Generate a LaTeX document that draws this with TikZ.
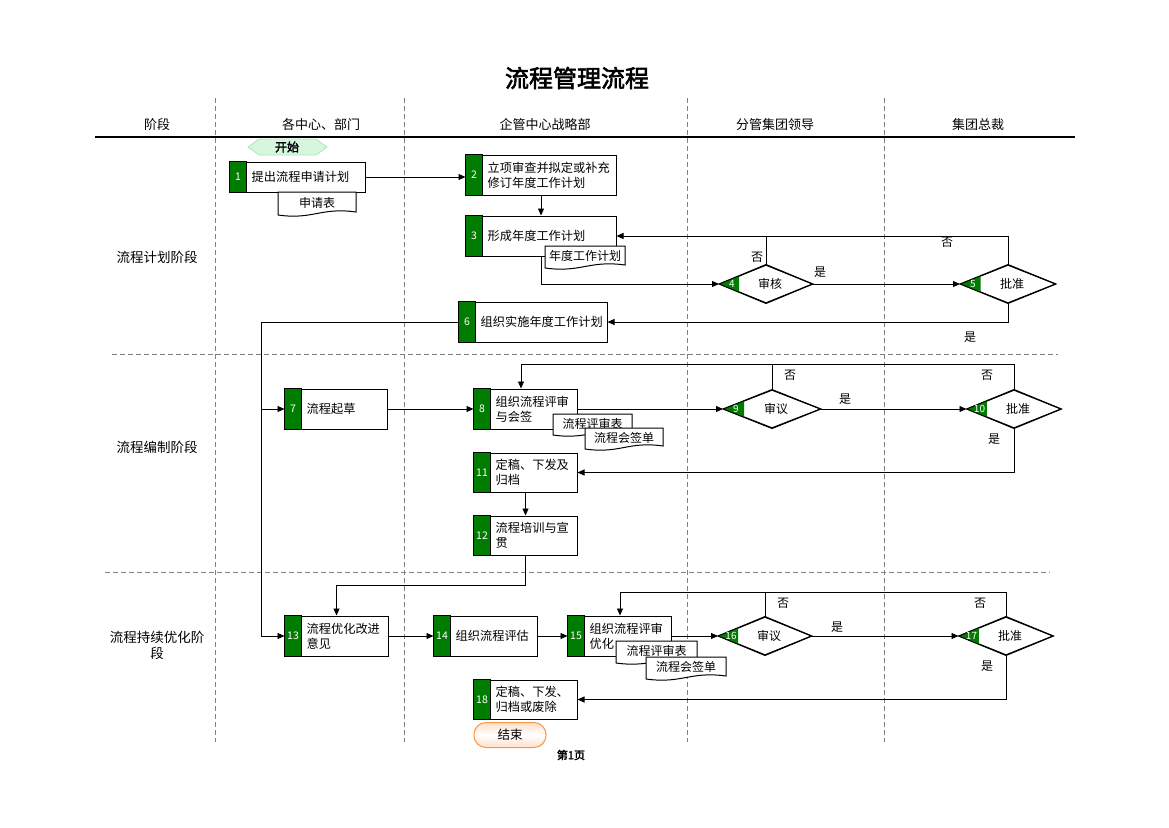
\documentclass[tikz,border=0pt]{standalone}
\usepackage{fontspec}
\setmainfont{Noto Sans CJK SC}[AutoFakeBold=2.5]
\usetikzlibrary{calc, arrows.meta, positioning, shapes.geometric}

\definecolor{bargreen}{RGB}{0,125,0}
\definecolor{startgreen}{RGB}{214,246,222}
\definecolor{startedge}{RGB}{170,232,190}
\definecolor{endorange}{RGB}{247,150,70}

\tikzset{
  procbox/.style={draw, line width=1pt, fill=white, inner sep=0pt},
  numbar/.style={draw, line width=1pt, fill=bargreen},
  numtext/.style={text=white, inner sep=0pt, font=\fontsize{10.5}{12}\selectfont},
  boxtext/.style={anchor=west, align=left, inner sep=0pt, font=\fontsize{12.2}{15}\selectfont},
  decision/.style={diamond, draw, line width=1pt, fill=white, inner sep=0pt, aspect=2.5},
  flow/.style={line width=0.9pt, -{Triangle[length=7pt,width=6pt]}},
  link/.style={line width=0.9pt},
  lanesep/.style={gray, line width=0.8pt, dash pattern=on 5pt off 3pt},
  doctext/.style={inner sep=0pt, font=\fontsize{12}{14}\selectfont},
  yesno/.style={inner sep=0pt, font=\fontsize{12}{14}\selectfont},
  headtext/.style={font=\fontsize{13}{15}\selectfont},
  phasetext/.style={align=center, font=\fontsize{13.5}{16}\selectfont},
}

% process box with green number bar
\newcommand{\procstep}[6]{%
  \node[procbox, minimum width=#4, minimum height=#5] (#1) at #3 {};
  \draw[numbar] (#1.north west) rectangle ([xshift=17pt]#1.south west);
  \node[numtext] (#1num) at ([xshift=8.5pt]#1.west) {#2};
  \node[boxtext] (#1txt) at ([xshift=22pt]#1.west) {#6};
}

% decision diamond with green corner
\newcommand{\decide}[5]{%
  \node[decision, minimum width=#4, minimum height=38] (#1) at #3 {};
  \fill[bargreen] (#1.west) -- ($(#1.west)!0.43!(#1.north)$) -- ($(#1.west)!0.43!(#1.south)$) -- cycle;
  \draw[line width=1pt] (#1.west) -- (#1.north) -- (#1.east) -- (#1.south) -- cycle;
  \node[numtext, font=\fontsize{10}{11}\selectfont] (#1num) at ([xshift=13pt]#1.west) {#2};
  \node[yesno] (#1txt) at ([xshift=4pt]#1.center) {#5};
}

% document with wavy bottom
\newcommand{\docnote}[6]{%
  \draw[line width=1pt, fill=white] (#2,#3) -- (#2+#4,#3) -- (#2+#4,#3+#5-3)
    .. controls (#2+0.55*#4,#3+#5-8) and (#2+0.45*#4,#3+#5+5) .. (#2,#3+#5) -- cycle;
  \node[doctext] (#1) at (#2+0.5*#4,#3+0.5*#5-1) {#6};
}

\begin{document}
\begin{tikzpicture}[x=1pt, y=-1pt]
    \useasboundingbox (0,0) rectangle (1169,827);

    % title and header
    \node[font=\fontsize{24}{28}\selectfont\bfseries] (title) at (577,78) {流程管理流程};
    \node[headtext] (hstage) at (157,125) {阶段};
    \node[headtext] (hdept) at (321,125) {各中心、部门};
    \node[headtext] (hstrat) at (545,125) {企管中心战略部};
    \node[headtext] (hlead) at (775,125) {分管集团领导};
    \node[headtext] (hceo) at (978,125) {集团总裁};
    \draw[line width=1.3pt] (95,137) -- (1075,137);

    % lanes
    \foreach \x in {215,404,687,884}
        \draw[lanesep] (\x,98) -- (\x,742);
    \draw[lanesep] (112,354) -- (1058,354);
    \draw[lanesep] (105,572) -- (1050,572);

    \node[phasetext] (ph1) at (157,257) {流程计划阶段};
    \node[phasetext] (ph2) at (157,447) {流程编制阶段};
    \node[phasetext] (ph3) at (157,645) {流程持续优化阶\\段};

    % start
    \draw[draw=startedge, fill=startgreen, line width=0.8pt]
        (248,147) -- (259,139) -- (316,139) -- (327,147) -- (316,155) -- (259,155) -- cycle;
    \node[font=\fontsize{12}{14}\selectfont\bfseries] (start) at (287,147) {开始};

    % steps
    \procstep{s1}{1}{(297.5,177)}{135}{30}{提出流程申请计划}
    \procstep{s2}{2}{(541,175)}{150}{40}{立项审查并拟定或补充\\修订年度工作计划}
    \procstep{s3}{3}{(541,236)}{150}{40}{形成年度工作计划}
    \procstep{s6}{6}{(533,322)}{148}{40}{组织实施年度工作计划}
    \procstep{s7}{7}{(336,409)}{102}{40}{流程起草}
    \procstep{s8}{8}{(525.5,409)}{103}{40}{组织流程评审\\与会签}
    \procstep{s11}{11}{(525.5,472.5)}{103}{39}{定稿、下发及\\归档}
    \procstep{s12}{12}{(525.5,535.5)}{103}{39}{流程培训与宣\\贯}
    \procstep{s13}{13}{(336.5,636)}{103}{40}{流程优化改进\\意见}
    \procstep{s14}{14}{(485.5,636)}{103}{40}{组织流程评估}
    \procstep{s15}{15}{(619.5,636)}{103}{40}{组织流程评审\\优化}
    \procstep{s18}{18}{(525.5,699.5)}{103}{39}{定稿、下发、\\归档或废除}

    \decide{d4}{4}{(766,284)}{93}{审核}
    \decide{d5}{5}{(1008,284)}{95}{批准}
    \decide{d9}{9}{(772,409)}{97}{审议}
    \decide{d10}{10}{(1014,409)}{94}{批准}
    \decide{d16}{16}{(765,636)}{93}{审议}
    \decide{d17}{17}{(1006,636)}{94}{批准}

    % connectors
    \draw[flow] (s1.east) -- (s1.east -| s2.west);
    \draw[flow] (s2.south) -- (s3.north);
    \draw[flow] (s3.south) |- (d4.west);
    \draw[flow] (d4.east) -- (d5.west);
    \draw[flow] (d5.north) |- (s3.east);
    \draw[link] (d4.north) -- (d4.north |- s3.east);
    \draw[flow] (d5.south) |- (s6.east);

    \coordinate (trunk) at (261,322);
    \draw[flow] (s6.west) -- (trunk) |- (s7.west);
    \draw[flow] (trunk) |- (s13.west);

    \draw[flow] (s7.east) -- (s8.west);
    \draw[flow] (s8.east) -- (d9.west);
    \draw[flow] (d9.east) -- (d10.west);
    \coordinate (loop8) at (521,364);
    \draw[flow] (d10.north) |- (loop8) -- (loop8 |- s8.north);
    \draw[link] (d9.north) -- (d9.north |- loop8);
    \draw[flow] (d10.south) |- (s11.east);
    \draw[flow] (s11.south) -- (s12.north);
    \draw[flow] (s12.south) -- ++(0,30) -| (s13.north);

    \draw[flow] (s13.east) -- (s14.west);
    \draw[flow] (s14.east) -- (s15.west);
    \draw[flow] (s15.east) -- (d16.west);
    \draw[flow] (d16.east) -- (d17.west);
    \coordinate (loop15) at (620,592);
    \draw[flow] (d17.north) |- (loop15) -- (loop15 |- s15.north);
    \draw[link] (d16.north) -- (d16.north |- loop15);
    \draw[flow] (d17.south) |- (s18.east);

    % documents
    \docnote{doc1}{278}{192}{78}{23}{申请表}
    \docnote{doc3}{545}{246}{80}{22}{年度工作计划}
    \docnote{doc8a}{553}{414}{79}{21}{流程评审表}
    \docnote{doc8b}{585}{428}{78}{21}{流程会签单}
    \docnote{doc15a}{616}{641}{81}{22}{流程评审表}
    \docnote{doc15b}{646}{657}{80}{22}{流程会签单}

    % yes / no
    \node[yesno] (n4) at (757,257) {否};
    \node[yesno] (y4) at (820,272) {是};
    \node[yesno] (n5) at (947,242) {否};
    \node[yesno] (y5) at (970,337) {是};
    \node[yesno] (n9) at (790,375) {否};
    \node[yesno] (n10) at (987,375) {否};
    \node[yesno] (y9) at (845,399) {是};
    \node[yesno] (y10) at (994,439) {是};
    \node[yesno] (n16) at (783,603) {否};
    \node[yesno] (n17) at (980,603) {否};
    \node[yesno] (y16) at (837,627) {是};
    \node[yesno] (y17) at (987,666) {是};

    % end
    \node[draw=endorange, line width=1pt, rounded corners=12pt, minimum width=72, minimum height=25,
          top color=endorange!30, bottom color=endorange!30, middle color=white,
          font=\fontsize{12.5}{14}\selectfont] (finish) at (510,735) {结束};
    \node[font=\fontsize{11}{13}\selectfont\bfseries] (page) at (571,755) {第1页};
\end{tikzpicture}
\end{document}
